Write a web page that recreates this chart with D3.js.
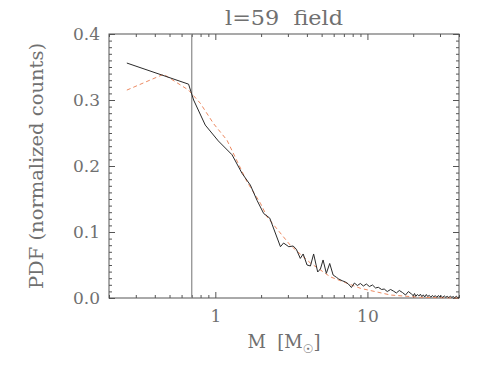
<!DOCTYPE html>
<html>
<head>
<meta charset="utf-8">
<script src="https://cdn.jsdelivr.net/npm/d3@7"></script>
<style>
  body { margin: 0; background: #fff; }
  text { font-family: "DejaVu Serif", "Liberation Serif", serif; fill: #707070; }
</style>
</head>
<body>
<div class="chart"></div>
<script>
// black curve: observed PDF
const massObs = [0.262, 0.667, 0.720, 0.859, 1.046, 1.288, 1.498, 1.70, 1.88, 2.08,
  2.28, 2.68, 2.81, 3.04, 3.25, 3.41, 3.62, 3.78, 4.01, 4.22,
  4.43, 4.71, 4.91, 5.11, 5.37, 5.65, 5.95, 6.25, 6.47, 6.82,
  7.17, 7.50, 7.85, 8.21, 8.59, 8.99, 9.41, 9.85, 10.3, 10.8,
  11.3, 11.8, 12.4, 12.9, 13.5, 14.2, 14.8, 15.5, 16.2, 17.0,
  17.8, 18.6, 19.5, 20.0, 20.4, 20.8, 21.3, 21.8, 22.3, 22.8,
  23.3, 23.8, 24.4, 24.9, 25.5, 26.1, 26.7, 27.3, 28.0, 28.6,
  29.3, 29.9, 30.6, 31.3, 32.0, 32.7, 33.5, 34.3, 35.1, 35.9,
  36.7, 37.5, 38.4, 39.2, 40.0];
const pdfObs = [0.356, 0.324, 0.300, 0.262, 0.238, 0.217, 0.189, 0.171, 0.148, 0.128,
  0.121, 0.0777, 0.0833, 0.0777, 0.0788, 0.0738, 0.060, 0.0667, 0.050, 0.0485,
  0.0667, 0.0394, 0.044, 0.0576, 0.0374, 0.0523, 0.0348, 0.0314, 0.0288, 0.0262,
  0.0242, 0.0212, 0.0159, 0.0227, 0.0189, 0.022, 0.0182, 0.0212, 0.0174, 0.0197,
  0.0152, 0.0162, 0.0129, 0.0136, 0.0098, 0.0129, 0.0106, 0.0076, 0.0114, 0.0083,
  0.0045, 0.0098, 0.006, 0.0035, 0.0068, 0.0025, 0.0053, 0.0030, 0.0058, 0.0020,
  0.0048, 0.0015, 0.0053, 0.0022, 0.0040, 0.0012, 0.0038, 0.0020, 0.0035, 0.0010,
  0.0038, 0.0015, 0.0030, 0.0008, 0.0033, 0.0012, 0.0025, 0.0006, 0.0030, 0.0010,
  0.0022, 0.0005, 0.0026, 0.0008, 0.0012];

// red dashed curve: model fit
const massFit = [0.262, 0.457, 0.667, 0.797, 0.975, 1.194, 1.617, 1.98, 2.19, 3.11,
  4.22, 5.71, 8.99, 14.2, 22.3, 40.0];
const pdfFit = [0.315, 0.339, 0.315, 0.295, 0.264, 0.239, 0.176, 0.1435, 0.123, 0.080,
  0.053, 0.032, 0.0147, 0.0045, 0.001, 0.0];

const xMajor = [1, 10];
const xMinor = [0.2, 0.3, 0.4, 0.5, 0.6, 0.7, 0.8, 0.9, 2, 3, 4, 5, 6, 7, 8, 9, 20, 30, 40];
const yMajor = [0.0, 0.1, 0.2, 0.3, 0.4];
const yMinor = d3.range(0, 41).map(i => i / 100).filter(v => Math.round(v * 100) % 10 !== 0);
const massCut = 0.7;

const margin = { top: 34, right: 32, bottom: 70, left: 109 };
const width = 491 - margin.left - margin.right;
const height = 368 - margin.top - margin.bottom;

const root = d3.select('.chart')
  .append('svg')
  .attr('width', 491)
  .attr('height', 368);

const svg = root.append('g')
  .attr('transform', `translate(${margin.left}, ${margin.top})`);

const xScale = d3.scaleLog()
  .domain([0.2, 40])
  .range([0, width]);

const yScale = d3.scaleLinear()
  .domain([0, 0.4])
  .range([height, 0]);

function styleAxis(g) {
  g.select('.domain').remove();
  g.selectAll('line').attr('stroke', '#555');
  g.selectAll('text').style('font-size', '17px').attr('fill', '#707070');
}

// bottom axis with labels, ticks pointing inwards
svg.append('g')
  .attr('transform', `translate(0, ${height})`)
  .call(d3.axisBottom(xScale).tickValues(xMajor).tickFormat(d3.format('d')).tickSize(-6).tickPadding(12))
  .call(styleAxis);
svg.append('g')
  .attr('transform', `translate(0, ${height})`)
  .call(d3.axisBottom(xScale).tickValues(xMinor).tickFormat('').tickSize(-3))
  .call(styleAxis);
// top axis mirror
svg.append('g')
  .call(d3.axisTop(xScale).tickValues(xMajor).tickFormat('').tickSize(-6))
  .call(styleAxis);
svg.append('g')
  .call(d3.axisTop(xScale).tickValues(xMinor).tickFormat('').tickSize(-3))
  .call(styleAxis);

// left axis
svg.append('g')
  .call(d3.axisLeft(yScale).tickValues(yMajor).tickFormat(d3.format('.1f')).tickSize(-6).tickPadding(9))
  .call(styleAxis);
svg.append('g')
  .call(d3.axisLeft(yScale).tickValues(yMinor).tickFormat('').tickSize(-3))
  .call(styleAxis);
// right axis mirror
svg.append('g')
  .attr('transform', `translate(${width}, 0)`)
  .call(d3.axisRight(yScale).tickValues(yMajor).tickFormat('').tickSize(-6))
  .call(styleAxis);
svg.append('g')
  .attr('transform', `translate(${width}, 0)`)
  .call(d3.axisRight(yScale).tickValues(yMinor).tickFormat('').tickSize(-3))
  .call(styleAxis);

// frame
svg.append('rect')
  .attr('width', width)
  .attr('height', height)
  .attr('fill', 'none')
  .attr('stroke', '#555')
  .attr('stroke-width', 1);

// vertical cut line
svg.append('line')
  .attr('x1', xScale(massCut))
  .attr('x2', xScale(massCut))
  .attr('y1', 0)
  .attr('y2', height)
  .attr('stroke', '#8a8a8a')
  .attr('stroke-width', 1.2);

const line = d3.line()
  .x(d => xScale(d[0]))
  .y(d => yScale(d[1]));

svg.append('path')
  .datum(massFit.map((m, i) => [m, pdfFit[i]]))
  .attr('d', line)
  .attr('fill', 'none')
  .attr('stroke', '#ec8a62')
  .attr('stroke-width', 1)
  .attr('stroke-dasharray', '4,3');

svg.append('path')
  .datum(massObs.map((m, i) => [m, pdfObs[i]]))
  .attr('d', line)
  .attr('fill', 'none')
  .attr('stroke', '#2a2a2a')
  .attr('stroke-width', 1);

// title
root.append('text')
  .attr('x', margin.left + width / 2)
  .attr('y', 25)
  .attr('text-anchor', 'middle')
  .attr('textLength', 118)
  .attr('lengthAdjust', 'spacingAndGlyphs')
  .style('font-size', '20px')
  .style('white-space', 'pre')
  .text('l=59  field');

// y label
root.append('text')
  .attr('transform', `translate(43, ${margin.top + height / 2}) rotate(-90)`)
  .attr('text-anchor', 'middle')
  .attr('textLength', 246)
  .attr('lengthAdjust', 'spacingAndGlyphs')
  .style('font-size', '19px')
  .text('PDF (normalized counts)');

// x label
const xl = root.append('text')
  .attr('x', margin.left + width / 2)
  .attr('y', 348)
  .attr('text-anchor', 'middle')
  .style('font-size', '18px')
  .style('white-space', 'pre');
xl.append('tspan').text('M  [M');
xl.append('tspan').attr('dy', 5).style('font-size', '12px').style('font-family', 'DejaVu Sans').text('\u2609');
xl.append('tspan').attr('dy', -5).text(']');
</script>
</body>
</html>
